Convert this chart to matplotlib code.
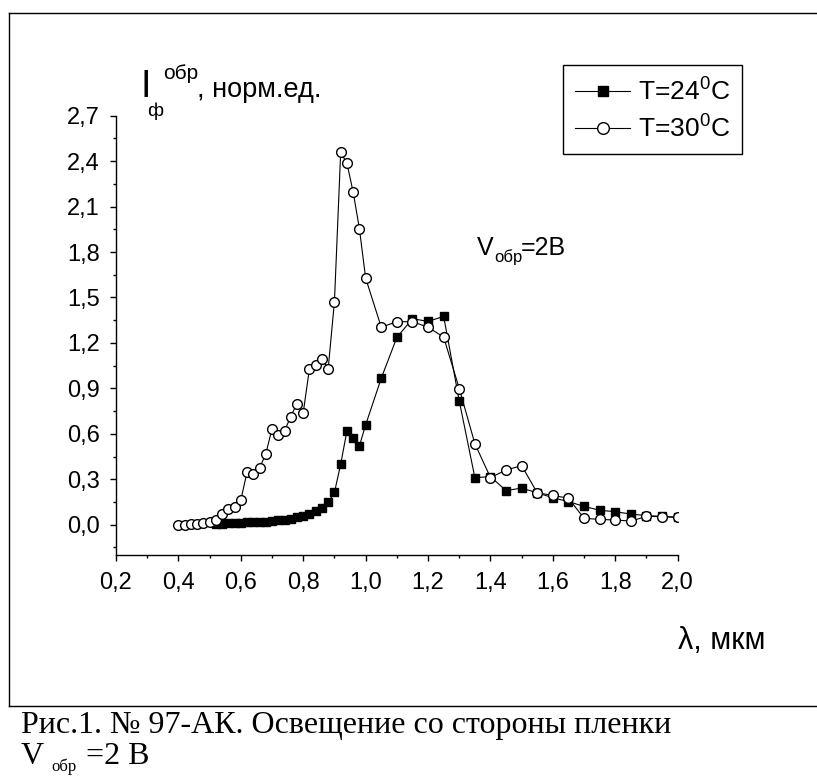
import matplotlib.pyplot as plt
from matplotlib.lines import Line2D
from matplotlib.ticker import MultipleLocator, FuncFormatter

# Размер картинки в пикселях
W, H = 817, 778

# Данные: T = 24 C
lam_24 = [0.52, 0.54, 0.56, 0.58, 0.60, 0.62, 0.64, 0.66, 0.68, 0.70,
          0.72, 0.74, 0.76, 0.78, 0.80, 0.82, 0.84, 0.86, 0.88, 0.90,
          0.92, 0.94, 0.96, 0.98, 1.00, 1.05, 1.10, 1.15, 1.20, 1.25,
          1.30, 1.35, 1.40, 1.45, 1.50, 1.55, 1.60, 1.65, 1.70, 1.75,
          1.80, 1.85, 1.90, 1.95, 2.00]
i_24 = [0.005, 0.007, 0.009, 0.011, 0.013, 0.015, 0.017, 0.019, 0.021, 0.024,
        0.028, 0.033, 0.040, 0.048, 0.058, 0.072, 0.090, 0.108, 0.147, 0.213,
        0.399, 0.619, 0.575, 0.520, 0.659, 0.967, 1.236, 1.360, 1.342, 1.375,
        0.817, 0.311, 0.317, 0.225, 0.242, 0.210, 0.178, 0.152, 0.121, 0.095,
        0.086, 0.070, 0.060, 0.055, 0.050]

# Данные: T = 30 C
lam_30 = [0.40, 0.42, 0.44, 0.46, 0.48, 0.50, 0.52, 0.54, 0.56, 0.58,
          0.60, 0.62, 0.64, 0.66, 0.68, 0.70, 0.72, 0.74, 0.76, 0.78,
          0.80, 0.82, 0.84, 0.86, 0.88, 0.90, 0.92, 0.94, 0.96, 0.98,
          1.00, 1.05, 1.10, 1.15, 1.20, 1.25, 1.30, 1.35, 1.40, 1.45,
          1.50, 1.55, 1.60, 1.65, 1.70, 1.75, 1.80, 1.85, 1.90, 1.95,
          2.00]
i_30 = [0.000, 0.000, 0.002, 0.004, 0.011, 0.020, 0.031, 0.073, 0.104, 0.119,
        0.163, 0.348, 0.335, 0.374, 0.467, 0.634, 0.592, 0.619, 0.714, 0.800,
        0.740, 1.031, 1.051, 1.093, 1.031, 1.472, 2.459, 2.386, 2.196, 1.954,
        1.628, 1.304, 1.340, 1.340, 1.304, 1.238, 0.899, 0.535, 0.311, 0.361,
        0.390, 0.210, 0.194, 0.174, 0.042, 0.035, 0.031, 0.024, 0.055, 0.053,
        0.048]

labels = [r'T=24$^{\mathregular{0}}$C', r'T=30$^{\mathregular{0}}$C']

plt.rcParams['font.family'] = ['Liberation Sans', 'DejaVu Sans']
plt.rcParams['mathtext.fontset'] = 'custom'
plt.rcParams['mathtext.rm'] = 'Liberation Sans'

serif = ['Liberation Serif', 'DejaVu Serif']


def px(x, y):
    # пиксели -> доли фигуры
    return x / W, 1 - y / H


fig = plt.figure(figsize=(W / 100, H / 100), dpi=100)
ax = fig.add_axes([116 / W, 1 - 555 / H, (677.7 - 116) / W, (555 - 115.7) / H])

ax.plot(lam_24, i_24, '-s', color='black', lw=0.8, ms=6,
        mfc='black', mec='black', label=labels[0])
ax.plot(lam_30, i_30, '-o', color='black', lw=0.8, ms=7,
        mfc='white', mec='black', mew=1, label=labels[1])

ax.set_xlim(0.2, 2.0)
ax.set_ylim(-0.2, 2.7)
ax.spines['top'].set_visible(False)
ax.spines['right'].set_visible(False)
for s in ['left', 'bottom']:
    ax.spines[s].set_linewidth(1)

comma = FuncFormatter(lambda v, p: f'{v:.1f}'.replace('.', ','))
ax.xaxis.set_major_locator(MultipleLocator(0.2))
ax.xaxis.set_minor_locator(MultipleLocator(0.1))
ax.yaxis.set_major_locator(MultipleLocator(0.3))
ax.yaxis.set_minor_locator(MultipleLocator(0.15))
ax.xaxis.set_major_formatter(comma)
ax.yaxis.set_major_formatter(comma)
ax.tick_params(which='major', direction='out', length=4.5, width=1, labelsize=17)
ax.tick_params(which='minor', direction='out', length=2.5, width=1)
ax.tick_params(axis='x', pad=8)
ax.tick_params(axis='y', pad=7)

leg = ax.legend(loc='upper left', bbox_to_anchor=px(563, 65), bbox_transform=fig.transFigure,
                fancybox=False, edgecolor='black', framealpha=1, borderaxespad=0,
                fontsize=19, handlelength=2.1, handletextpad=0.3, borderpad=0.45,
                labelspacing=0.35, numpoints=1, markerscale=1.2)
leg.get_frame().set_linewidth(1)

# подпись оси Y
fig.text(*px(141, 97), 'I', fontsize=27, va='baseline')
fig.text(*px(147, 116), 'ф', fontsize=14, va='baseline')
fig.text(*px(163, 79), 'обр', fontsize=15, va='baseline')
fig.text(*px(197, 97), ', норм.ед.', fontsize=19.5, va='baseline')

# подпись оси X
fig.text(*px(678, 649), 'λ, мкм', fontsize=22, va='baseline')

# V обр = 2 В на графике
fig.text(*px(477, 255), 'V', fontsize=18, va='baseline')
fig.text(*px(494, 262), 'обр', fontsize=12, va='baseline')
fig.text(*px(521, 255), '=2В', fontsize=18, va='baseline')

# рамка
fig.add_artist(Line2D([9 / W, 9 / W], [1 - 13 / H, 1 - 706 / H], transform=fig.transFigure, color='black', lw=1))
fig.add_artist(Line2D([9 / W, 1], [1 - 13 / H, 1 - 13 / H], transform=fig.transFigure, color='black', lw=1))
fig.add_artist(Line2D([9 / W, 1], [1 - 706 / H, 1 - 706 / H], transform=fig.transFigure, color='black', lw=1))

# подпись к рисунку
fig.text(*px(21, 733), 'Рис.1. № 97-АК. Освещение со стороны пленки',
         fontsize=23, family=serif, va='baseline')
fig.text(*px(21, 764), 'V', fontsize=23, family=serif, va='baseline')
fig.text(*px(51, 771), 'обр', fontsize=12, family=serif, va='baseline')
fig.text(*px(86, 764), '=2 В', fontsize=23, family=serif, va='baseline')

fig.savefig('out.png', dpi=100)
